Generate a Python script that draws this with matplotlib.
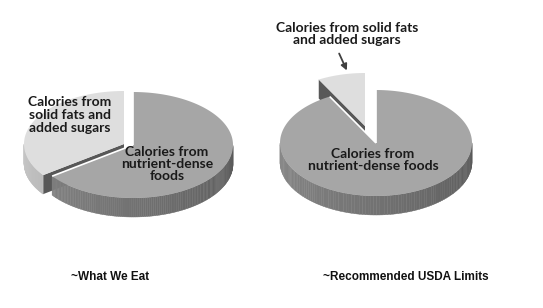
import numpy as np
import matplotlib
matplotlib.use('Agg')
import matplotlib.pyplot as plt
from matplotlib.patches import Polygon

# data: share of calories (%)
eat_labels = ['Calories from\nsolid fats and\nadded sugars', 'Calories from\nnutrient-dense\nfoods']
eat_values = [35, 65]
usda_labels = ['Calories from solid fats\nand added sugars', 'Calories from\nnutrient-dense foods']
usda_values = [8, 92]
titles = ['~What We Eat', '~Recommended USDA Limits']

W, H = 543, 308
fig = plt.figure(figsize=(W / 100, H / 100), dpi=100)
ax = fig.add_axes([0, 0, 1, 1])
ax.set_xlim(0, W)
ax.set_ylim(0, H)
ax.axis('off')

top_cols = ['#dedede', '#a6a6a6']
side_cols = ['#c8c8c8', '#8a8a8a']
cut_col = '#585858'


def ell(cx, cy, rx, ry, t):
    t = np.radians(t)
    return cx + rx * np.cos(t), cy + ry * np.sin(t)


def shade(col, f):
    c = np.array(matplotlib.colors.to_rgb(col)) * f
    return np.clip(c, 0, 1)


def pie3d(values, cx, cy, rx, ry, depth, explode):
    fracs = np.array(values) / np.sum(values)
    start = 90.0
    # small exploded slice first, big slice drawn over it
    for i, fr in enumerate(fracs):
        t1, t2 = start, start + fr * 360
        start = t2
        sx, sy = cx + explode[i][0], cy + explode[i][1]
        ts = np.linspace(t1, t2, 200)
        # cut faces (radial edges) that face the viewer
        for te, sgn in ((t1, -1), (t2, 1)):
            if np.sin(np.radians(te + sgn * 90)) < -0.05:
                ex, ey = ell(sx, sy, rx, ry, te)
                ax.add_patch(Polygon([(sx, sy), (ex, ey), (ex, ey - depth), (sx, sy - depth)],
                                     closed=True, fc=cut_col, ec='none'))
        # curved side with a little shading
        for a, b in zip(ts[:-1], ts[1:]):
            m = (a + b) / 2
            if np.sin(np.radians(m)) >= 0:
                continue
            xa, ya = ell(sx, sy, rx, ry, a)
            xb, yb = ell(sx, sy, rx, ry, b)
            f = 1.0 - 0.35 * ((m % 360) - 180) / 180
            c = shade(side_cols[i], f)
            ax.add_patch(Polygon([(xa, ya), (xb, yb), (xb, yb - depth), (xa, ya - depth)],
                                 closed=True, fc=c, ec=c, lw=0.3))
        xs, ys = ell(sx, sy, rx, ry, ts)
        pts = np.column_stack([np.r_[sx, xs], np.r_[sy, ys]])
        ax.add_patch(Polygon(pts, closed=True, fc=top_cols[i], ec='none'))
        if i > 0:
            # thin white gap along the radial edges of the big slice
            for te in (t1, t2):
                ex, ey = ell(sx, sy, rx, ry, te)
                ax.plot([sx, ex], [sy, ey], color='white', lw=1.2, solid_capstyle='butt')


txt = dict(family=['Lato', 'DejaVu Sans'], weight='bold', fontsize=10, color='#1a1a1a',
           ha='center', va='center', linespacing=1.05)

# left pie
pie3d(eat_values, 133, 163, 100, 53, 19, [(-9, 1), (0, 0)])
ax.text(70, H - 115, eat_labels[0], **txt)
ax.text(167, H - 164, eat_labels[1], **txt)

# right pie
pie3d(usda_values, 376, 165, 96, 53, 19, [(-11, 17), (0, 0)])
ax.text(347, H - 34, usda_labels[0], **txt)
ax.text(373, H - 160, usda_labels[1], **txt)
ax.annotate('', xy=(348, H - 73), xytext=(338, H - 51),
            arrowprops=dict(arrowstyle='-|>', color='#404040', lw=1.3, mutation_scale=9))

tt = dict(family=['Liberation Sans', 'DejaVu Sans'], weight='bold', fontsize=8.5,
          color='#111111', ha='center', va='center')
ax.text(110, H - 277, titles[0], **tt)
ax.text(406, H - 277, titles[1], **tt)

fig.savefig('out.png', dpi=100)
